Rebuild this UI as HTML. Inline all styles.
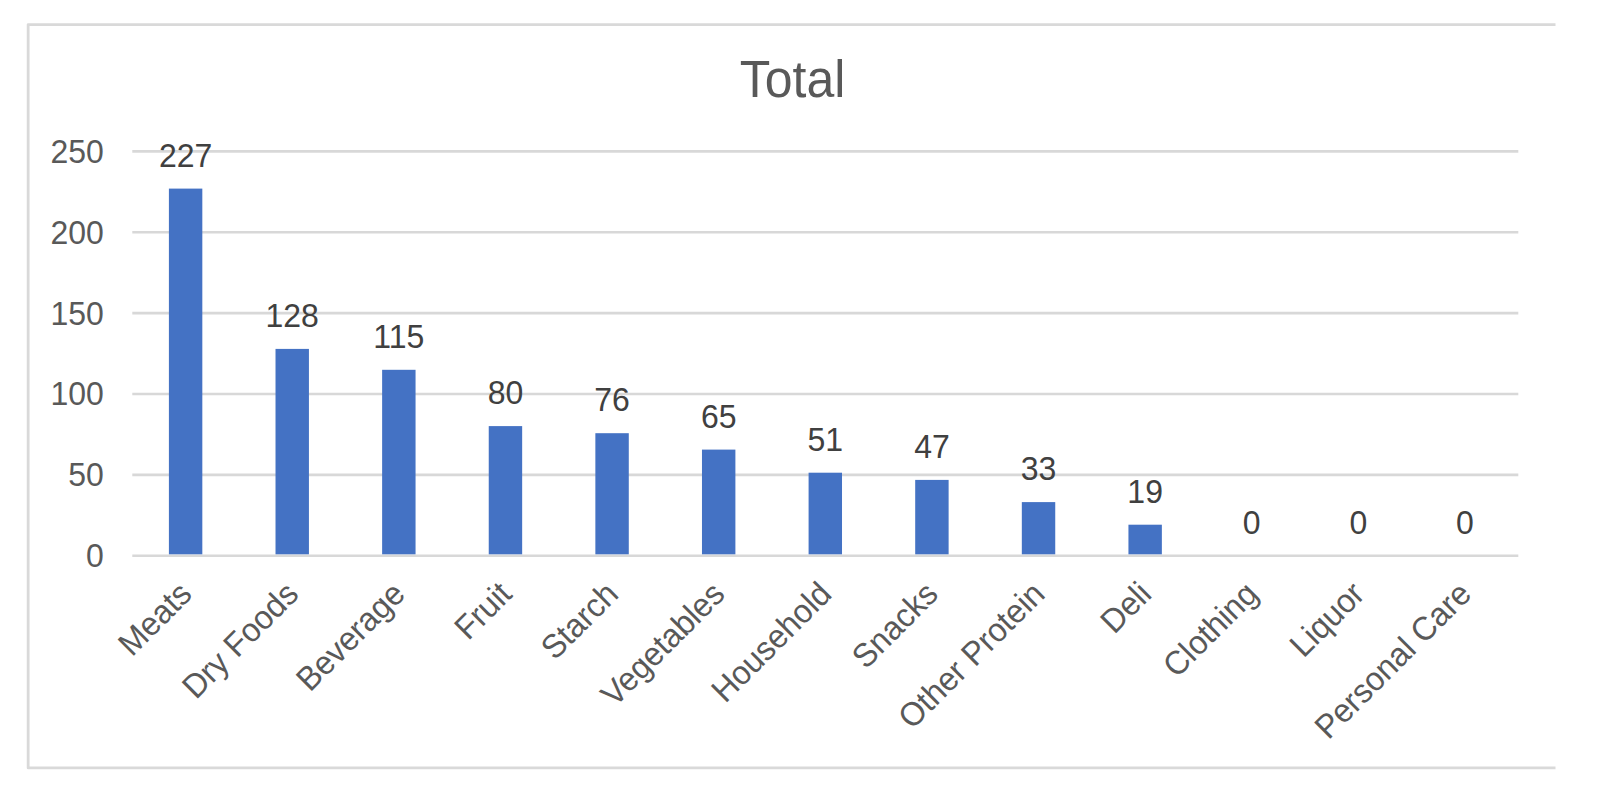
<!DOCTYPE html>
<html><head><meta charset="utf-8"><title>Total</title>
<style>
html,body{margin:0;padding:0;background:#fff;}
body{width:1624px;height:812px;overflow:hidden;position:relative;}
svg{position:absolute;left:0;top:0;display:block;}
text{font-family:"Liberation Sans",Arial,sans-serif;}
.ax{fill:#595959;font-size:32px;}
.dl{fill:#404040;font-size:32px;}
.ttl{fill:#595959;font-size:50px;}
</style></head><body>
<svg width="1624" height="812" viewBox="0 0 1624 812">
<rect x="0" y="0" width="1624" height="812" fill="#ffffff"/>
<path d="M1555.5 24.55 H28.15 V767.95 H1555.5" fill="none" stroke="#d9d9d9" stroke-width="2.8" stroke-linejoin="round"/>
<line x1="132.30" y1="555.70" x2="1518.30" y2="555.70" stroke="#d8d8d8" stroke-width="2.6"/>
<text class="ax" text-anchor="end" transform="translate(103.8 567.10) scale(1 1.040)">0</text>
<line x1="132.30" y1="474.84" x2="1518.30" y2="474.84" stroke="#d8d8d8" stroke-width="2.6"/>
<text class="ax" text-anchor="end" transform="translate(103.8 486.24) scale(1 1.040)">50</text>
<line x1="132.30" y1="393.98" x2="1518.30" y2="393.98" stroke="#d8d8d8" stroke-width="2.6"/>
<text class="ax" text-anchor="end" transform="translate(103.8 405.38) scale(1 1.040)">100</text>
<line x1="132.30" y1="313.12" x2="1518.30" y2="313.12" stroke="#d8d8d8" stroke-width="2.6"/>
<text class="ax" text-anchor="end" transform="translate(103.8 324.52) scale(1 1.040)">150</text>
<line x1="132.30" y1="232.26" x2="1518.30" y2="232.26" stroke="#d8d8d8" stroke-width="2.6"/>
<text class="ax" text-anchor="end" transform="translate(103.8 243.66) scale(1 1.040)">200</text>
<line x1="132.30" y1="151.40" x2="1518.30" y2="151.40" stroke="#d8d8d8" stroke-width="2.6"/>
<text class="ax" text-anchor="end" transform="translate(103.8 162.80) scale(1 1.040)">250</text>
<rect x="168.90" y="188.60" width="33.42" height="365.70" fill="#4472c4"/>
<rect x="275.51" y="348.90" width="33.42" height="205.40" fill="#4472c4"/>
<rect x="382.13" y="369.80" width="33.42" height="184.50" fill="#4472c4"/>
<rect x="488.74" y="426.10" width="33.42" height="128.20" fill="#4472c4"/>
<rect x="595.36" y="433.20" width="33.42" height="121.10" fill="#4472c4"/>
<rect x="701.97" y="449.60" width="33.42" height="104.70" fill="#4472c4"/>
<rect x="808.59" y="472.70" width="33.42" height="81.60" fill="#4472c4"/>
<rect x="915.20" y="479.90" width="33.42" height="74.40" fill="#4472c4"/>
<rect x="1021.82" y="502.10" width="33.42" height="52.20" fill="#4472c4"/>
<rect x="1128.44" y="524.70" width="33.42" height="29.60" fill="#4472c4"/>
<text class="dl" text-anchor="middle" transform="translate(185.61 166.50) scale(1 1.040)">227</text>
<text class="dl" text-anchor="middle" transform="translate(292.22 326.80) scale(1 1.040)">128</text>
<text class="dl" text-anchor="middle" transform="translate(398.84 347.70) scale(1 1.040)">115</text>
<text class="dl" text-anchor="middle" transform="translate(505.45 404.00) scale(1 1.040)">80</text>
<text class="dl" text-anchor="middle" transform="translate(612.07 411.10) scale(1 1.040)">76</text>
<text class="dl" text-anchor="middle" transform="translate(718.68 427.50) scale(1 1.040)">65</text>
<text class="dl" text-anchor="middle" transform="translate(825.30 450.60) scale(1 1.040)">51</text>
<text class="dl" text-anchor="middle" transform="translate(931.92 457.80) scale(1 1.040)">47</text>
<text class="dl" text-anchor="middle" transform="translate(1038.53 480.00) scale(1 1.040)">33</text>
<text class="dl" text-anchor="middle" transform="translate(1145.15 502.60) scale(1 1.040)">19</text>
<text class="dl" text-anchor="middle" transform="translate(1251.76 533.60) scale(1 1.040)">0</text>
<text class="dl" text-anchor="middle" transform="translate(1358.38 533.60) scale(1 1.040)">0</text>
<text class="dl" text-anchor="middle" transform="translate(1464.99 533.60) scale(1 1.040)">0</text>
<text class="ax" text-anchor="end" transform="translate(193.61 596.00) rotate(-45) scale(1 1.040)">Meats</text>
<text class="ax" text-anchor="end" transform="translate(300.22 596.00) rotate(-45) scale(1 1.040)">Dry Foods</text>
<text class="ax" text-anchor="end" transform="translate(406.84 596.00) rotate(-45) scale(1 1.040)">Beverage</text>
<text class="ax" text-anchor="end" transform="translate(513.45 596.00) rotate(-45) scale(1 1.040)">Fruit</text>
<text class="ax" text-anchor="end" transform="translate(620.07 596.00) rotate(-45) scale(1 1.040)">Starch</text>
<text class="ax" text-anchor="end" transform="translate(726.68 596.00) rotate(-45) scale(1 1.040)">Vegetables</text>
<text class="ax" text-anchor="end" transform="translate(833.30 596.00) rotate(-45) scale(1 1.040)">Household</text>
<text class="ax" text-anchor="end" transform="translate(939.92 596.00) rotate(-45) scale(1 1.040)">Snacks</text>
<text class="ax" text-anchor="end" transform="translate(1046.53 596.00) rotate(-45) scale(1 1.040)">Other Protein</text>
<text class="ax" text-anchor="end" transform="translate(1153.15 596.00) rotate(-45) scale(1 1.040)">Deli</text>
<text class="ax" text-anchor="end" transform="translate(1259.76 596.00) rotate(-45) scale(1 1.040)">Clothing</text>
<text class="ax" text-anchor="end" transform="translate(1366.38 596.00) rotate(-45) scale(1 1.040)">Liquor</text>
<text class="ax" text-anchor="end" transform="translate(1472.99 596.00) rotate(-45) scale(1 1.040)">Personal Care</text>
<text class="ttl" text-anchor="middle" transform="translate(792.6 96.7) scale(1 1.040)">Total</text>
</svg></body></html>
